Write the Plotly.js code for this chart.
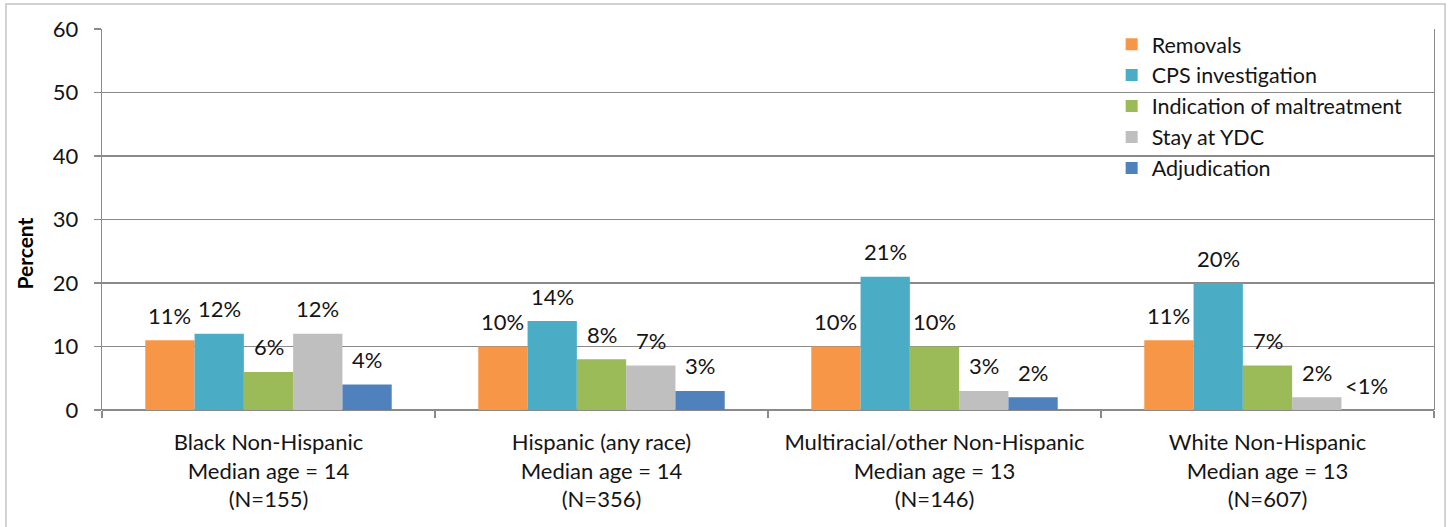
<!DOCTYPE html>
<html>
<head>
<meta charset="utf-8">
<script src="https://cdn.plot.ly/plotly-3.0.1.min.js"></script>
<style>
  html, body { margin: 0; padding: 0; background: #ffffff; }
  #chart { width: 1454px; height: 527px; }
</style>
</head>
<body>
<div id="chart"></div>
<script>
// Group labels (race/ethnicity, median age, sample size)
const groups = [
  "Black Non-Hispanic<br>Median age = 14<br>(N=155)",
  "Hispanic (any race)<br>Median age = 14<br>(N=356)",
  "Multiracial/other Non-Hispanic<br>Median age = 13<br>(N=146)",
  "White Non-Hispanic<br>Median age = 13<br>(N=607)"
];

// Outcome series, percent of youth in each group
const seriesNames = ["Removals", "CPS investigation", "Indication of maltreatment", "Stay at YDC", "Adjudication"];
const removals      = [11, 10, 10, 11];
const cpsInvest     = [12, 14, 21, 20];
const maltreatment  = [6, 8, 10, 7];
const stayYDC       = [12, 7, 3, 2];
const adjudication  = [4, 3, 2, 0];

// Printed labels above each bar
const removalsLabels     = ["11%", "10%", "10%", "11%"];
const cpsInvestLabels    = ["12%", "14%", "21%", "20%"];
const maltreatmentLabels = ["6%", "8%", "10%", "7%"];
const stayYDCLabels      = ["12%", "7%", "3%", "2%"];
const adjudicationLabels = ["4%", "3%", "2%", "<1%"];

const seriesValues = [removals, cpsInvest, maltreatment, stayYDC, adjudication];
const seriesLabels = [removalsLabels, cpsInvestLabels, maltreatmentLabels, stayYDCLabels, adjudicationLabels];
const seriesColors = ["#F79646", "#4BACC6", "#9BBB59", "#BFBFBF", "#4F81BD"];

const FONT = "Lato, 'Open Sans', sans-serif";
const TEXT = "#141414";
const GRID = "#8a8a8a";
const BARGAP = 0.26;

const traces = seriesNames.map((name, i) => ({
  type: "bar",
  name: name,
  x: groups,
  y: seriesValues[i],
  marker: { color: seriesColors[i], line: { width: 0 } },
  hoverinfo: "skip"
}));

// Value labels: placed over each bar using the category serial index plus
// the bar's offset within its group.
const nSeries = seriesNames.length;
const barWidth = (1 - BARGAP) / nSeries;
const annotations = [];
seriesValues.forEach((vals, i) => {
  vals.forEach((v, j) => {
    annotations.push({
      x: j + (i - (nSeries - 1) / 2) * barWidth,
      y: v,
      xref: "x", yref: "y",
      text: seriesLabels[i][j],
      showarrow: false,
      yshift: 25,
      yanchor: "middle",
      font: { family: FONT, size: 22, color: TEXT }
    });
  });
});

// Vertical axis title
annotations.push({
  xref: "paper", yref: "paper",
  x: -0.058, y: 0.41,
  text: "<b>Percent</b>",
  textangle: -90,
  showarrow: false,
  xanchor: "center", yanchor: "middle",
  font: { family: FONT, size: 21, color: "#000000" }
});

const layout = {
  width: 1454,
  height: 527,
  margin: { l: 102, r: 20, t: 29, b: 117, pad: 0 },
  paper_bgcolor: "#ffffff",
  plot_bgcolor: "#ffffff",
  barmode: "group",
  bargap: BARGAP,
  bargroupgap: 0,
  font: { family: FONT, size: 22, color: TEXT },
  showlegend: true,
  legend: {
    x: 0.758, xanchor: "left",
    y: 1.014, yanchor: "top",
    bgcolor: "rgba(0,0,0,0)",
    borderwidth: 0,
    font: { family: FONT, size: 21.5, color: TEXT },
    traceorder: "normal"
  },
  xaxis: {
    type: "category",
    tickson: "boundaries",
    ticks: "outside",
    ticklen: 7,
    tickwidth: 1.3,
    tickcolor: GRID,
    showline: false,
    showgrid: false,
    zeroline: false,
    tickfont: { family: FONT, size: 22, color: TEXT },
    ticklabelstandoff: 17,
    fixedrange: true
  },
  yaxis: {
    range: [0, 60],
    dtick: 10,
    tick0: 0,
    ticks: "outside",
    ticklen: 7,
    tickwidth: 1.3,
    tickcolor: GRID,
    showline: true,
    mirror: true,
    linecolor: GRID,
    linewidth: 1.3,
    showgrid: true,
    gridcolor: GRID,
    gridwidth: 1.3,
    zeroline: true,
    zerolinecolor: GRID,
    zerolinewidth: 1.3,
    tickfont: { family: FONT, size: 22, color: TEXT },
    ticklabelstandoff: 11,
    fixedrange: true
  },
  annotations: annotations,
  shapes: [{
    // outer chart frame
    type: "rect",
    xref: "paper", yref: "paper",
    x0: -0.0721, x1: 1.0083,
    y0: -0.45, y1: 1.0656,
    line: { color: "#c4c4c4", width: 1.5 },
    fillcolor: "rgba(0,0,0,0)",
    layer: "below"
  }]
};

Plotly.newPlot("chart", traces, layout, { staticPlot: true, displayModeBar: false });
</script>
</body>
</html>
